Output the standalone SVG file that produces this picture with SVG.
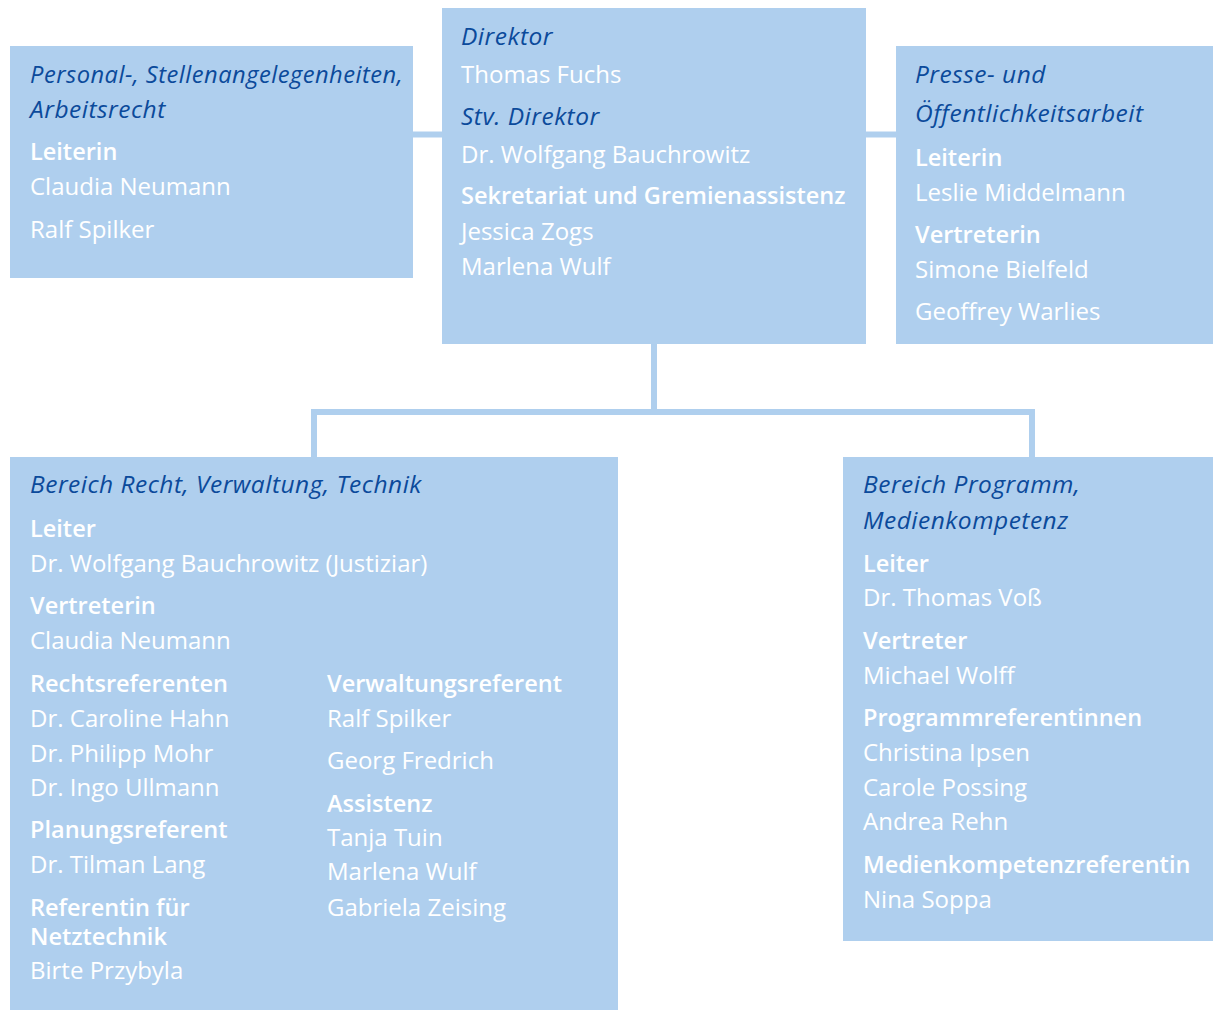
<svg xmlns="http://www.w3.org/2000/svg" width="1213" height="1010" viewBox="0 0 1213 1010">
<style>
.box{fill:#afcfee}
.con{fill:none;stroke:#afcfee;stroke-width:6}
text{font-family:"Open Sans","DejaVu Sans",sans-serif}
.t{font-style:italic;font-size:24.5px;letter-spacing:0.5px;fill:#0b4a9b}
.l{font-weight:600;font-size:23.5px;fill:#ffffff}
.n{font-size:24px;fill:#ffffff}
</style>
<rect width="1213" height="1010" fill="#ffffff"/>
<g id="connectors">
<path class="con" d="M413,134.5 H442"/>
<path class="con" d="M866,134.5 H896"/>
<path class="con" d="M654,344 V412"/>
<path class="con" d="M314,457 V412 H1032 V457"/>
</g>
<g id="personal">
<rect class="box" x="10" y="46" width="403" height="232"/>
<text class="t" x="30" y="83" textLength="373" lengthAdjust="spacingAndGlyphs">Personal-, Stellenangelegenheiten,</text>
<text class="t" x="30" y="118">Arbeitsrecht</text>
<text class="l" x="30" y="160">Leiterin</text>
<text class="n" x="30" y="195">Claudia Neumann</text>
<text class="n" x="30" y="238">Ralf Spilker</text>
</g>
<g id="direktor">
<rect class="box" x="442" y="8" width="424" height="336"/>
<text class="t" x="461" y="45">Direktor</text>
<text class="n" x="461" y="83">Thomas Fuchs</text>
<text class="t" x="461" y="125">Stv. Direktor</text>
<text class="n" x="461" y="163">Dr. Wolfgang Bauchrowitz</text>
<text class="l" x="461" y="204">Sekretariat und Gremienassistenz</text>
<text class="n" x="461" y="240">Jessica Zogs</text>
<text class="n" x="461" y="275">Marlena Wulf</text>
</g>
<g id="presse">
<rect class="box" x="896" y="46" width="317" height="298"/>
<text class="t" x="915" y="83">Presse- und</text>
<text class="t" x="915" y="122">Öffentlichkeitsarbeit</text>
<text class="l" x="915" y="166">Leiterin</text>
<text class="n" x="915" y="201">Leslie Middelmann</text>
<text class="l" x="915" y="243">Vertreterin</text>
<text class="n" x="915" y="278">Simone Bielfeld</text>
<text class="n" x="915" y="320">Geoffrey Warlies</text>
</g>
<g id="recht">
<rect class="box" x="10" y="457" width="608" height="553"/>
<text class="t" x="30" y="493">Bereich Recht, Verwaltung, Technik</text>
<text class="l" x="30" y="537">Leiter</text>
<text class="n" x="30" y="572">Dr. Wolfgang Bauchrowitz (Justiziar)</text>
<text class="l" x="30" y="614">Vertreterin</text>
<text class="n" x="30" y="649">Claudia Neumann</text>
<text class="l" x="30" y="692">Rechtsreferenten</text>
<text class="n" x="30" y="727">Dr. Caroline Hahn</text>
<text class="n" x="30" y="762">Dr. Philipp Mohr</text>
<text class="n" x="30" y="796">Dr. Ingo Ullmann</text>
<text class="l" x="30" y="838">Planungsreferent</text>
<text class="n" x="30" y="873">Dr. Tilman Lang</text>
<text class="l" x="30" y="916">Referentin für</text>
<text class="l" x="30" y="945">Netztechnik</text>
<text class="n" x="30" y="979">Birte Przybyla</text>
<text class="l" x="327" y="692">Verwaltungsreferent</text>
<text class="n" x="327" y="727">Ralf Spilker</text>
<text class="n" x="327" y="769">Georg Fredrich</text>
<text class="l" x="327" y="812">Assistenz</text>
<text class="n" x="327" y="846">Tanja Tuin</text>
<text class="n" x="327" y="880">Marlena Wulf</text>
<text class="n" x="327" y="916">Gabriela Zeising</text>
</g>
<g id="programm">
<rect class="box" x="843" y="457" width="370" height="484"/>
<text class="t" x="863" y="493">Bereich Programm,</text>
<text class="t" x="863" y="529">Medienkompetenz</text>
<text class="l" x="863" y="572">Leiter</text>
<text class="n" x="863" y="606">Dr. Thomas Voß</text>
<text class="l" x="863" y="649">Vertreter</text>
<text class="n" x="863" y="684">Michael Wolff</text>
<text class="l" x="863" y="726">Programmreferentinnen</text>
<text class="n" x="863" y="761">Christina Ipsen</text>
<text class="n" x="863" y="796">Carole Possing</text>
<text class="n" x="863" y="830">Andrea Rehn</text>
<text class="l" x="863" y="873">Medienkompetenzreferentin</text>
<text class="n" x="863" y="908">Nina Soppa</text>
</g>
</svg>
